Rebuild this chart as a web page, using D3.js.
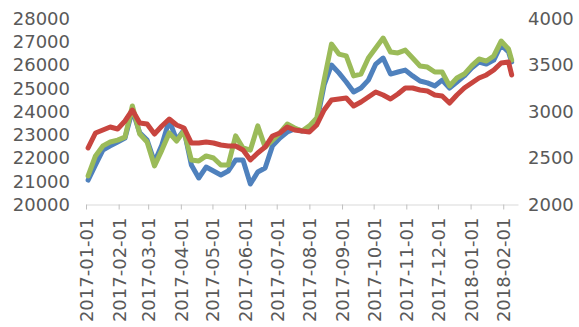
<!DOCTYPE html>
<html>
<head>
<meta charset="utf-8">
<script src="https://cdn.jsdelivr.net/npm/d3@7/dist/d3.min.js"></script>
<style>
  html, body { margin: 0; padding: 0; background: #fff; }
  svg { display: block; }
  text { font-family: "DejaVu Sans", sans-serif; fill: #595959; }
</style>
</head>
<body>
<svg id="chart" width="579" height="327"></svg>
<script>
// Weekly observation dates
const dates = [
  "2017-01-03","2017-01-10","2017-01-17","2017-01-24","2017-01-31","2017-02-07","2017-02-14","2017-02-21",
  "2017-02-28","2017-03-07","2017-03-14","2017-03-21","2017-03-28","2017-04-04","2017-04-11","2017-04-18",
  "2017-04-25","2017-05-02","2017-05-09","2017-05-16","2017-05-23","2017-05-30","2017-06-06","2017-06-13",
  "2017-06-20","2017-06-27","2017-07-04","2017-07-11","2017-07-18","2017-07-25","2017-08-01","2017-08-08",
  "2017-08-15","2017-08-22","2017-08-29","2017-09-05","2017-09-12","2017-09-19","2017-09-26","2017-10-03",
  "2017-10-10","2017-10-17","2017-10-24","2017-10-31","2017-11-07","2017-11-14","2017-11-21","2017-11-28",
  "2017-12-05","2017-12-12","2017-12-19","2017-12-26","2018-01-02","2018-01-09","2018-01-16","2018-01-23",
  "2018-01-30","2018-02-06","2018-02-09"
];

// Left-axis series
const blueSeries = [
  21050,21700,22340,22520,22690,22860,24060,23080,22770,21830,22560,23630,22770,23200,21700,21140,
  21610,21440,21270,21440,21910,21910,20880,21400,21570,22520,22860,23120,23250,23160,23200,23550,
  25140,26000,25660,25270,24840,25010,25350,26040,26300,25610,25700,25780,25530,25310,25230,25100,
  25350,25010,25270,25530,25870,26130,26040,26210,26860,26560,26130
];
const greenSeries = [
  21230,22090,22520,22690,22770,22900,24240,23030,22690,21660,22340,23080,22730,23160,21910,21870,
  22090,22000,21700,21700,22950,22430,22340,23380,22470,22770,23080,23460,23290,23160,23380,23720,
  25350,26900,26470,26390,25530,25610,26300,26730,27160,26560,26520,26640,26300,25960,25910,25700,
  25700,25100,25440,25610,25960,26260,26170,26390,27030,26690,26210
];
// Right-axis series
const redSeries = [
  2608,2769,2801,2833,2812,2898,3016,2876,2866,2758,2844,2919,2855,2823,2661,2661,
  2672,2661,2640,2629,2629,2586,2479,2554,2618,2737,2769,2833,2801,2790,2780,2855,
  3016,3124,3134,3145,3059,3102,3156,3210,3177,3134,3188,3253,3253,3231,3220,3177,
  3167,3091,3177,3253,3307,3360,3393,3446,3522,3532,3393
];

const leftTicks = [20000,21000,22000,23000,24000,25000,26000,27000,28000];
const rightTicks = [2000,2500,3000,3500,4000];
const monthTicks = [
  "2017-01-01","2017-02-01","2017-03-01","2017-04-01","2017-05-01","2017-06-01","2017-07-01",
  "2017-08-01","2017-09-01","2017-10-01","2017-11-01","2017-12-01","2018-01-01","2018-02-01"
];

const parse = d3.timeParse("%Y-%m-%d");
const fmt = d3.timeFormat("%Y-%m-%d");
const svg = d3.select("#chart");

const plot = { left: 86, right: 518, top: 18.5, bottom: 204.5 };

const x = d3.scaleTime()
  .domain([parse("2017-01-01"), parse("2018-02-15")])
  .range([plot.left, plot.right]);
const yL = d3.scaleLinear().domain([20000, 28000]).range([plot.bottom, plot.top]);
const yR = d3.scaleLinear().domain([2000, 4000]).range([plot.bottom, plot.top]);

// Left axis labels (no axis line)
const gL = svg.append("g").attr("transform", "translate(70,0)")
  .call(d3.axisLeft(yL).tickValues(leftTicks).tickSize(0).tickPadding(0).tickFormat(d3.format("d")));
gL.select(".domain").remove();
gL.selectAll("text").attr("font-size", 18).attr("fill", "#595959")
  .style("font-family", "'DejaVu Sans', sans-serif");

// Right axis labels
const gR = svg.append("g").attr("transform", "translate(528,0)")
  .call(d3.axisRight(yR).tickValues(rightTicks).tickSize(0).tickPadding(0).tickFormat(d3.format("d")));
gR.select(".domain").remove();
gR.selectAll("text").attr("font-size", 18).attr("fill", "#595959")
  .style("font-family", "'DejaVu Sans', sans-serif");

// Date axis
const gX = svg.append("g").attr("transform", `translate(0,${plot.bottom})`)
  .call(d3.axisBottom(x).tickValues(monthTicks.map(parse)).tickSize(5).tickSizeOuter(0).tickFormat(fmt));
gX.select(".domain").attr("stroke", "#d9d9d9");
gX.selectAll(".tick line").attr("stroke", "#bfbfbf");
gX.selectAll(".tick text")
  .attr("font-size", 18).attr("fill", "#595959")
  .style("font-family", "'DejaVu Sans', sans-serif")
  .attr("text-anchor", "end")
  .attr("transform", "translate(0,13) rotate(-90)")
  .attr("x", 0).attr("y", 0).attr("dy", "0.36em");

const pts = dates.map(parse);
const lineL = d3.line().x((d, i) => x(pts[i])).y(d => yL(d));
const lineR = d3.line().x((d, i) => x(pts[i])).y(d => yR(d));

const series = [
  { values: blueSeries, gen: lineL, color: "#4F81BD" },
  { values: greenSeries, gen: lineL, color: "#9BBB59" },
  { values: redSeries, gen: lineR, color: "#C8453F" }
];

svg.append("g").selectAll("path").data(series).join("path")
  .attr("d", s => s.gen(s.values))
  .attr("fill", "none")
  .attr("stroke", s => s.color)
  .attr("stroke-width", 5)
  .attr("stroke-linejoin", "round")
  .attr("stroke-linecap", "round");
</script>
</body>
</html>
